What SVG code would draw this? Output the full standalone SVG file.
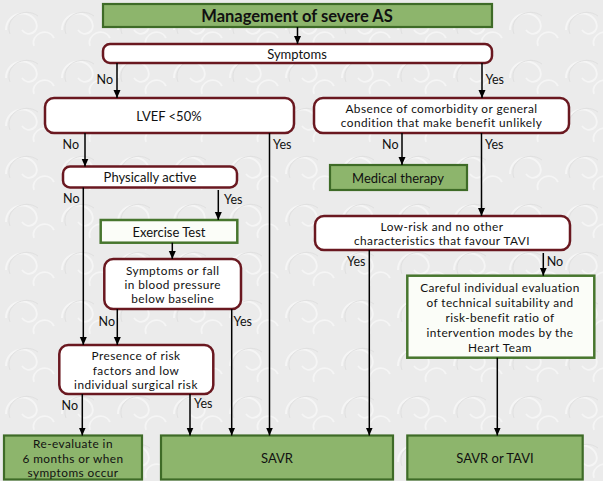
<svg xmlns="http://www.w3.org/2000/svg" width="603" height="481" viewBox="0 0 603 481">
<defs>
<pattern id="bgp" width="56" height="48" patternUnits="userSpaceOnUse">
<rect width="56" height="48" fill="#ebebeb"/>
<path d="M6 30 C6 12 30 8 36 22 C40 32 28 38 22 30" fill="none" stroke="#f5f5f5" stroke-width="2"/>
<path d="M10 34 C4 18 24 6 38 16" fill="none" stroke="#e0e0e0" stroke-width="1"/>
<path d="M34 46 C30 34 48 26 54 38" fill="none" stroke="#f5f5f5" stroke-width="1.8"/>
</pattern>
<marker id="ah" markerWidth="8" markerHeight="8" refX="8" refY="4" orient="auto" markerUnits="userSpaceOnUse">
<path d="M0 0.5 L8 4 L0 7.5 Z" fill="#000"/>
</marker>
<style>
text{font-family:Lato,"Liberation Sans",sans-serif;font-size:13px;fill:#111;text-anchor:middle;dominant-baseline:central}
.ml text{font-size:11.8px;letter-spacing:0.45px}
.lbl{font-size:12.5px}
.st{text-anchor:start}
.en{text-anchor:end}
.green{fill:#8db56c;stroke:#3e6b27;stroke-width:2.2}
.gout{fill:#fbfdf8;stroke:#47762e;stroke-width:2.5}
.red{fill:#fff;stroke:#6a1820;stroke-width:2.5}
.con line{stroke:#000;stroke-width:1.5}
.arr{marker-end:url(#ah)}
</style>
</defs>
<rect width="603" height="481" fill="url(#bgp)"/>

<g id="title"><rect class="green" x="103" y="4" width="389" height="23"/><text x="297" y="16" style="font-weight:bold;font-size:16.5px">Management of severe AS</text></g>
<g id="symptoms"><rect class="red" x="103" y="44" width="389" height="19" rx="7"/><text x="297" y="53.5">Symptoms</text></g>
<g id="lvef"><rect class="red" x="45" y="98" width="249" height="35" rx="9"/><text x="169" y="115.5">LVEF &lt;50%</text></g>
<g id="absence" class="ml"><rect class="red" x="314" y="98" width="255" height="35" rx="9"/><text x="441.5" y="108">Absence of comorbidity or general</text><text x="441.5" y="122.5">condition that make benefit unlikely</text></g>
<g id="physact"><rect class="red" x="63" y="166.5" width="174" height="21" rx="7"/><text x="150" y="177">Physically active</text></g>
<g id="medical"><rect class="green" x="330" y="165" width="137" height="25"/><text x="398" y="178">Medical therapy</text></g>
<g id="exercise"><rect class="gout" x="100.7" y="220" width="136.6" height="22.7"/><text x="169" y="231.5">Exercise Test</text></g>
<g id="lowrisk" class="ml"><rect class="red" x="315" y="216" width="255" height="34" rx="9"/><text x="442" y="226">Low-risk and no other</text><text x="442" y="240.5">characteristics that favour TAVI</text></g>
<g id="symfall" class="ml"><rect class="red" x="104.3" y="259" width="136.7" height="50" rx="9"/><text x="172.7" y="270">Symptoms or fall</text><text x="172.7" y="284.3">in blood pressure</text><text x="172.7" y="298.6">below baseline</text></g>
<g id="careful" class="ml"><rect class="gout" x="407.3" y="275.7" width="187" height="82"/><text x="500" y="287">Careful individual evaluation</text><text x="500" y="302">of technical suitability and</text><text x="500" y="317">risk-benefit ratio of</text><text x="500" y="332">intervention modes by the</text><text x="500" y="347">Heart Team</text></g>
<g id="presence" class="ml"><rect class="red" x="59.3" y="345" width="154" height="49" rx="9"/><text x="136" y="355.6">Presence of risk</text><text x="136" y="370">factors and low</text><text x="136" y="384.4">individual surgical risk</text></g>
<g id="reeval" class="ml"><rect class="green" x="4" y="435.5" width="138" height="44"/><text x="73" y="443.6">Re-evaluate in</text><text x="73" y="458">6 months or when</text><text x="73" y="472.4">symptoms occur</text></g>
<g id="savr"><rect class="green" x="161" y="435.5" width="232" height="44"/><text x="277" y="458">SAVR</text></g>
<g id="savrtavi"><rect class="green" x="407.3" y="435.5" width="175.4" height="44"/><text x="495" y="458">SAVR or TAVI</text></g>

<g id="connectors" class="con">
<line class="arr" x1="297.5" y1="27" x2="297.5" y2="44"/>
<line class="arr" x1="117" y1="63" x2="117" y2="98"/>
<line class="arr" x1="482" y1="63" x2="482" y2="98"/>
<line class="arr" x1="85" y1="133" x2="85" y2="166.5"/>
<line class="arr" x1="269.5" y1="133" x2="269.5" y2="435.5"/>
<line class="arr" x1="402" y1="133" x2="402" y2="165"/>
<line class="arr" x1="481.5" y1="133" x2="481.5" y2="216"/>
<line class="arr" x1="83.3" y1="187.5" x2="83.3" y2="345"/>
<line class="arr" x1="218.3" y1="190" x2="218.3" y2="220"/>
<line class="arr" x1="172.3" y1="242.7" x2="172.3" y2="259"/>
<line class="arr" x1="117.3" y1="309" x2="117.3" y2="345"/>
<line class="arr" x1="231.7" y1="309" x2="231.7" y2="435.5"/>
<line class="arr" x1="82.3" y1="394" x2="82.3" y2="435.5"/>
<line class="arr" x1="190" y1="394" x2="190" y2="435.5"/>
<line class="arr" x1="369.3" y1="250" x2="369.3" y2="435.5"/>
<line class="arr" x1="543.3" y1="253" x2="543.3" y2="275.7"/>
<line class="arr" x1="497.3" y1="357.7" x2="497.3" y2="435.5"/>
<text class="lbl en" x="113" y="79">No</text>
<text class="lbl st" x="485.5" y="79">Yes</text>
<text class="lbl en" x="79" y="144">No</text>
<text class="lbl st" x="273" y="144">Yes</text>
<text class="lbl en" x="398.5" y="144">No</text>
<text class="lbl st" x="485" y="144">Yes</text>
<text class="lbl en" x="79.5" y="198">No</text>
<text class="lbl st" x="224" y="199.5">Yes</text>
<text class="lbl en" x="115" y="321.5">No</text>
<text class="lbl st" x="233.5" y="321.5">Yes</text>
<text class="lbl en" x="78" y="405">No</text>
<text class="lbl st" x="194" y="403.5">Yes</text>
<text class="lbl en" x="365.5" y="261">Yes</text>
<text class="lbl st" x="546.7" y="261">No</text>
</g>
</svg>
